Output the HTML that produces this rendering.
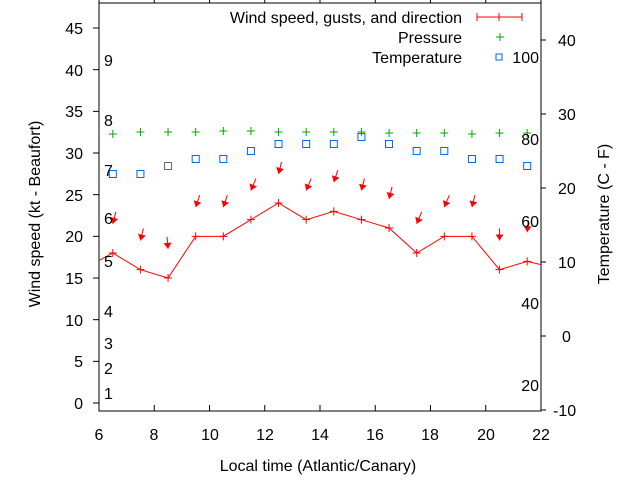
<!DOCTYPE html>
<html><head><meta charset="utf-8"><style>
html,body{margin:0;padding:0;background:#fff;width:640px;height:480px;overflow:hidden}
text{font-family:"Liberation Sans",sans-serif;font-size:16px;fill:#000}
</style></head><body>
<svg id="s" width="640" height="480" xmlns="http://www.w3.org/2000/svg">
<rect x="99" y="3" width="442" height="408" fill="none" stroke="#000" stroke-width="1"/>
<g id="g"></g>
<g text-anchor="end">
<text x="83" y="409">0</text><text x="83" y="367">5</text><text x="83" y="326">10</text>
<text x="83" y="284">15</text><text x="83" y="242">20</text><text x="83" y="201">25</text>
<text x="83" y="159">30</text><text x="83" y="117">35</text><text x="83" y="76">40</text>
<text x="83" y="34">45</text>
</g>
<g text-anchor="middle">
<text x="99" y="440">6</text><text x="154" y="440">8</text><text x="210" y="440">10</text>
<text x="265" y="440">12</text><text x="320" y="440">14</text><text x="375" y="440">16</text>
<text x="430" y="440">18</text><text x="486" y="440">20</text><text x="541" y="440">22</text>
<text x="318" y="471">Local time (Atlantic/Canary)</text>
</g>
<g text-anchor="start">
<text x="553" y="416">-10</text><text x="562" y="342">0</text><text x="558" y="268">10</text>
<text x="558" y="194">20</text><text x="558" y="120">30</text><text x="558" y="46">40</text>
</g>
<g>
<text x="104" y="399">1</text><text x="104" y="374">2</text><text x="104" y="349">3</text>
<text x="104" y="317">4</text><text x="104" y="267">5</text><text x="104" y="224">6</text>
<text x="104" y="176">7</text><text x="104" y="126">8</text><text x="104" y="66">9</text>
</g>
<g text-anchor="end">
<text x="539" y="63">100</text><text x="539" y="145">80</text><text x="539" y="227">60</text>
<text x="539" y="309">40</text><text x="539" y="391">20</text>
<text x="462" y="23">Wind speed, gusts, and direction</text>
<text x="462" y="43">Pressure</text>
<text x="462" y="63">Temperature</text>
</g>
<text transform="translate(40,214) rotate(-90)" text-anchor="middle">Wind speed (kt - Beaufort)</text>
<text transform="translate(609,214) rotate(-90)" text-anchor="middle">Temperature (C - F)</text>
<g stroke="#f00" stroke-width="1">
<line x1="477" y1="17" x2="522" y2="17"/><line x1="477" y1="13" x2="477" y2="21"/>
<line x1="522" y1="13" x2="522" y2="21"/><line x1="499" y1="13" x2="499" y2="21"/>
</g>
<g stroke="#0a0" stroke-width="1"><line x1="496" y1="37" x2="504" y2="37"/><line x1="500" y1="33" x2="500" y2="41"/></g>
<rect x="496" y="54" width="6" height="6" fill="none" stroke="#06e" stroke-width="1"/>
</svg>
<script>
var g=document.getElementById('g'),h='';
function X(t){return 99+(t-6)*27.625}
function Y(v){return 403-v*8.333}
for(var v=0;v<=45;v+=5){h+='<line x1="93" y1="'+Y(v)+'" x2="99" y2="'+Y(v)+'" stroke="#000"/>';}
for(var t=6;t<=22;t+=2){h+='<line x1="'+X(t)+'" y1="411" x2="'+X(t)+'" y2="405" stroke="#000"/><line x1="'+X(t)+'" y1="3" x2="'+X(t)+'" y2="0" stroke="#000"/>';}
for(var c=-10;c<=40;c+=10){var y=336-c*7.4;h+='<line x1="541" y1="'+y+'" x2="546" y2="'+y+'" stroke="#000"/>';}
var w=[18,16,15,20,20,22,24,22,23,22,21,18,20,20,16,17];
var pts='99,'+Y(17.1);
for(var i=0;i<16;i++)pts+=' '+X(6.5+i)+','+Y(w[i]);
pts+=' 541,'+Y(16.6);
h+='<polyline points="'+pts+'" fill="none" stroke="#f00" stroke-width="1"/>';
for(var i=0;i<16;i++){var x=X(6.5+i),y=Y(w[i]);h+='<path d="M'+(x-4)+' '+y+'H'+(x+4)+'M'+x+' '+(y-4)+'V'+(y+4)+'" stroke="#f00"/>';}
var gu=[21.5,19.5,18.5,23.5,23.5,25.5,27.5,25.5,26.5,25.5,24.5,21.5,23.5,23.5,19.5,20.5];
var dx=[3,3,-1,4,4,5,3,5,4,3,3,5,5,3,0,1];
for(var i=0;i<16;i++){var x=X(6.5+i),y=Y(gu[i]);var d=dx[i],L=Math.sqrt(d*d+144);var ux=d/L,uy=-12/L;
h+='<line x1="'+x+'" y1="'+y+'" x2="'+(x+d)+'" y2="'+(y-12)+'" stroke="#f00"/>';
var px=-uy,py=ux;
h+='<polygon points="'+x+','+y+' '+(x+ux*6+px*4)+','+(y+uy*6+py*4)+' '+(x+ux*6-px*4)+','+(y+uy*6-py*4)+'" fill="#f00"/>';}
var p=[134,132,132,132,131,131,132,132,132,132,133,133,133,134,133,133];
for(var i=0;i<16;i++){var x=X(6.5+i),y=p[i];h+='<path d="M'+(x-4)+' '+y+'H'+(x+4)+'M'+x+' '+(y-4)+'V'+(y+4)+'" stroke="#0a0"/>';}
var tp=[174,174,166,159,159,151,144,144,144,137,144,151,151,159,159,166];
for(var i=0;i<16;i++){var x=X(6.5+i),y=tp[i];h+='<rect x="'+(x-3.5)+'" y="'+(y-3.5)+'" width="7" height="7" fill="none" stroke="'+(i==2?'#666':'#06e')+'"/>';}
g.innerHTML=h;
</script>
</body></html>
